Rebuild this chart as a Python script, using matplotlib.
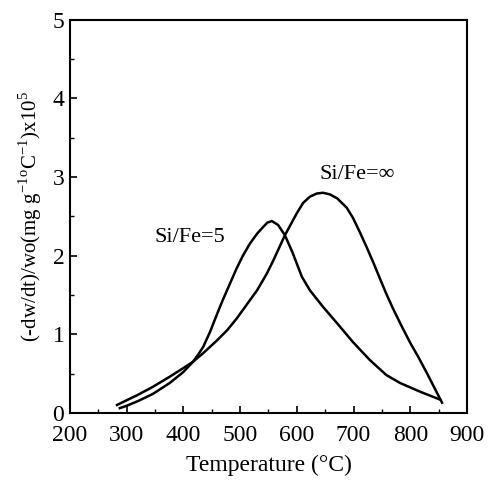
import matplotlib
matplotlib.use("Agg")
import matplotlib.pyplot as plt
from matplotlib.ticker import MultipleLocator

# DTG curves: temperature (°C) and weight-loss rate (x10^5)
temp_fe5 = [288, 300, 320, 346, 376, 400, 417, 426, 435, 447, 459, 468, 477, 494, 505, 517, 530, 540, 548,
            556, 567, 579, 593, 602, 609, 623, 646, 671, 699, 729, 758, 782, 817, 852]
rate_fe5 = [0.06, 0.09, 0.15, 0.24, 0.38, 0.52, 0.65, 0.74, 0.84, 1.03, 1.25, 1.41, 1.56, 1.84, 2.00, 2.15, 2.28, 2.36, 2.42,
            2.44, 2.39, 2.26, 2.03, 1.86, 1.73, 1.56, 1.35, 1.14, 0.90, 0.67, 0.48, 0.38, 0.27, 0.17]

temp_inf = [283, 300, 320, 346, 376, 400, 417, 435, 459, 477, 494, 512, 530, 547, 558, 579, 600, 611,
            623, 635, 646, 658, 671, 688, 699, 711, 723, 735, 747, 758, 770, 785, 800, 815, 829, 856]
rate_inf = [0.10, 0.16, 0.23, 0.33, 0.46, 0.57, 0.65, 0.76, 0.92, 1.05, 1.20, 1.38, 1.56, 1.77, 1.93, 2.26, 2.54, 2.67,
            2.75, 2.79, 2.80, 2.78, 2.73, 2.61, 2.48, 2.30, 2.11, 1.91, 1.70, 1.51, 1.32, 1.10, 0.89, 0.70, 0.51, 0.13]

x_ticks = [200, 300, 400, 500, 600, 700, 800, 900]
y_ticks = [0, 1, 2, 3, 4, 5]

plt.rcParams['font.family'] = ['Liberation Serif', 'DejaVu Serif']
plt.rcParams['mathtext.fontset'] = 'custom'
plt.rcParams['mathtext.rm'] = 'Liberation Serif'

fig = plt.figure(figsize=(4.89, 4.84), dpi=100)
ax = fig.add_axes([0.143, 0.147, 0.812, 0.812])

ax.plot(temp_fe5, rate_fe5, color='black', lw=1.8, solid_joinstyle='round')
ax.plot(temp_inf, rate_inf, color='black', lw=1.8, solid_joinstyle='round')

ax.set_xlim(200, 900)
ax.set_ylim(0, 5)
ax.set_xticks(x_ticks)
ax.set_yticks(y_ticks)
ax.xaxis.set_minor_locator(MultipleLocator(50))
ax.yaxis.set_minor_locator(MultipleLocator(0.5))
ax.tick_params(which='both', direction='in', top=False, right=False)
ax.tick_params(axis='x', which='major', length=5, width=1.2, labelsize=17, pad=9)
ax.tick_params(axis='y', which='major', length=5, width=1.2, labelsize=17, pad=4)
ax.tick_params(which='minor', length=3, width=1.0)
for s in ax.spines.values():
    s.set_linewidth(1.5)

ax.text(412, 2.23, 'Si/Fe=5', fontsize=16, ha='center', va='center')
ax.text(706, 3.03, 'Si/Fe=∞', fontsize=16, ha='center', va='center')

ax.set_xlabel('Temperature (°C)', fontsize=17, labelpad=6)
ax.set_ylabel(r'(-dw/dt)/wo(mg g$^{-1}$$^{\rm o}$C$^{-1}$)x10$^{5}$', fontsize=15, labelpad=6)

fig.savefig('out.png', dpi=100)
